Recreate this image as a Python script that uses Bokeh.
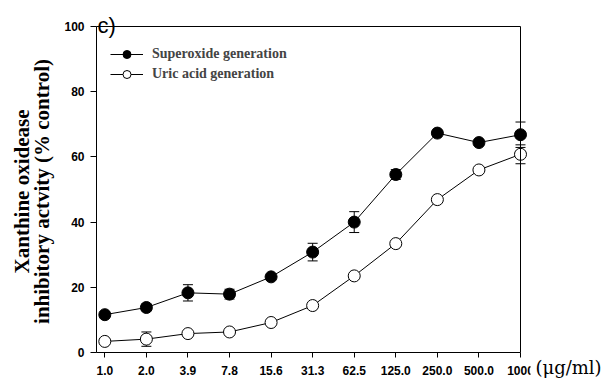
import math
from bokeh.plotting import figure
from bokeh.models import (Range1d, FixedTicker, Whisker, ColumnDataSource, Label,
                          Legend, LegendItem, TeeHead, LinearAxis)
from bokeh.embed import file_html
from bokeh.resources import INLINE

# Extract concentrations (µg/ml) shown as category ticks
doses = ["1.0", "2.0", "3.9", "7.8", "15.6", "31.3", "62.5", "125.0", "250.0", "500.0", "1000"]

# Xanthine oxidase inhibitory activity (% control), mean and SD
superoxide = [11.6, 13.8, 18.3, 17.9, 23.2, 30.8, 40.0, 54.6, 67.3, 64.4, 66.8]
superoxide_err = [1.0, 1.0, 2.5, 1.5, 0.8, 2.7, 3.2, 1.5, 0.8, 0.8, 3.9]
uric = [3.4, 4.1, 5.8, 6.3, 9.2, 14.4, 23.5, 33.4, 46.9, 56.0, 60.8]
uric_err = [0.8, 2.2, 0.6, 0.6, 0.6, 0.6, 0.6, 0.6, 0.6, 0.6, 2.9]

y_ticks = [0, 20, 40, 60, 80, 100]

xs = list(range(len(doses)))

# The axes box spans x = -0.2 .. 10 and y = 0 .. 100; the ranges are padded
# so that the titles and the unit label sit inside the drawing frame.
X_MIN, X_MAX = -0.2, 10
Y_MIN, Y_MAX = 0, 100
p = figure(width=608, height=387,
           x_range=Range1d(-2.5094, 12.117), y_range=Range1d(-10.736, 107.975),
           output_backend="svg", toolbar_location=None, min_border=0)
p.background_fill_color = "white"
p.border_fill_color = "white"
p.outline_line_color = None
p.xgrid.visible = False
p.ygrid.visible = False

p.xaxis.ticker = FixedTicker(ticks=xs)
p.xaxis.major_label_overrides = {i: d for i, d in zip(xs, doses)}
p.xaxis.fixed_location = Y_MIN
p.xaxis.bounds = (X_MIN, X_MAX)
p.yaxis.ticker = FixedTicker(ticks=y_ticks)
p.yaxis.fixed_location = X_MIN
p.yaxis.bounds = (Y_MIN, Y_MAX)
for ax in (p.xaxis, p.yaxis):
    ax.axis_line_color = "black"
    ax.major_tick_line_color = "black"
    ax.minor_tick_line_color = None
    ax.major_tick_in = 0
    ax.major_label_text_font = "Liberation Sans"
    ax.major_label_text_font_style = "bold"
    ax.major_label_text_font_size = "12px"
    ax.major_label_text_color = "black"
p.xaxis.major_tick_out = 5
p.xaxis.major_label_standoff = 8
p.yaxis.major_tick_out = 6
p.yaxis.major_label_standoff = 6

# closing lines of the box: plain axes without ticks or labels
def border_axis(loc, bounds):
    return LinearAxis(fixed_location=loc, bounds=bounds, ticker=FixedTicker(ticks=[]),
                      axis_line_color="black", major_tick_line_color=None,
                      minor_tick_line_color=None, major_label_text_font_size="0px")

p.add_layout(border_axis(Y_MAX, (X_MIN, X_MAX)), "above")
p.add_layout(border_axis(X_MAX, (Y_MIN, Y_MAX)), "right")

# error bars
for vals, errs in ((superoxide, superoxide_err), (uric, uric_err)):
    src = ColumnDataSource(dict(x=xs,
                                upper=[v + e for v, e in zip(vals, errs)],
                                lower=[v - e for v, e in zip(vals, errs)]))
    p.add_layout(Whisker(base="x", upper="upper", lower="lower", source=src,
                         line_color="black", line_width=1,
                         upper_head=TeeHead(size=10, line_color="black", line_width=1),
                         lower_head=TeeHead(size=10, line_color="black", line_width=1)))

l1 = p.line(xs, superoxide, line_color="black", line_width=1)
s1 = p.scatter(xs, superoxide, size=12, fill_color="black", line_color="black")
l2 = p.line(xs, uric, line_color="black", line_width=1)
s2 = p.scatter(xs, uric, size=12, fill_color="white", line_color="black")

legend = Legend(items=[LegendItem(label="Superoxide generation", renderers=[l1, s1]),
                       LegendItem(label="Uric acid generation", renderers=[l2, s2])],
                location=(110, 303), padding=0, margin=0, spacing=0,
                border_line_alpha=0, background_fill_alpha=0,
                glyph_width=33, glyph_height=20, label_height=20, label_standoff=9,
                label_text_font="Liberation Serif", label_text_font_style="bold",
                label_text_font_size="14px")
p.add_layout(legend)

# panel letter, straddling the top line of the box
p.add_layout(Label(x=-0.176, y=100.31, text="c)", text_font="Liberation Sans",
                   text_font_size="22px", text_baseline="alphabetic", text_color="black"))

# two-line y-axis title
title_font = dict(text_font="Liberation Serif", text_font_style="bold", text_font_size="21px",
                  text_align="center", text_baseline="alphabetic", angle=math.pi / 2,
                  text_color="black")
p.add_layout(Label(x=-2.004, y=49.4, text="Xanthine oxidease", **title_font))
p.add_layout(Label(x=-1.511, y=49.4, text="inhibitory actvity (% control)", **title_font))

# concentration unit; its white box trims the end of the last tick label
p.add_layout(Label(x=10.24, y=-4.6, text="(\u03bcg/ml)", text_font="DejaVu Serif",
                   text_font_size="18px", text_baseline="alphabetic", text_color="black",
                   background_fill_color="white", padding=5))

open("out.html", "w").write(file_html(p, INLINE))
